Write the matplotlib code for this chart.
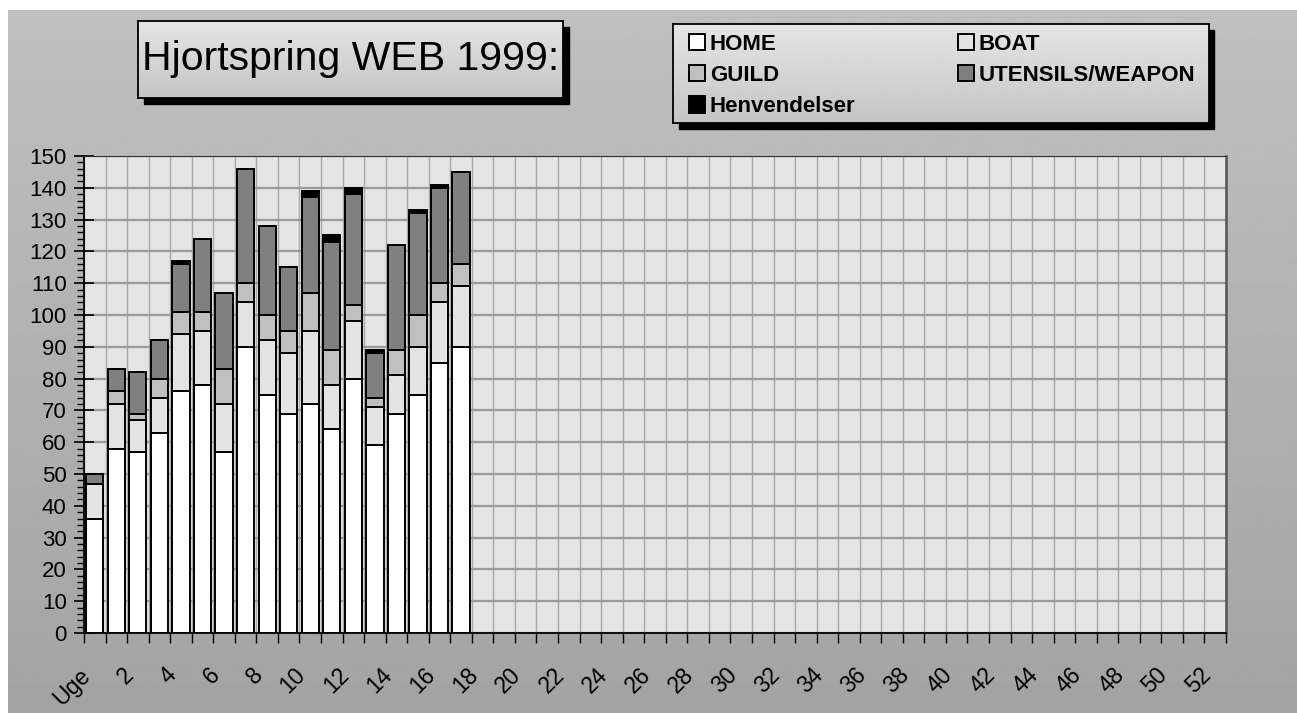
import numpy as np
import matplotlib.pyplot as plt
from matplotlib.patches import Rectangle
from matplotlib.ticker import MultipleLocator

plt.rcParams['font.family'] = ['Liberation Sans', 'DejaVu Sans']

# weeks (category 0 is labelled "Uge")
weeks = ['Uge'] + [str(i) for i in range(1, 53)]

home = [36, 58, 57, 63, 76, 78, 57, 90, 75, 69, 72, 64, 80, 59, 69, 75, 85, 90]
boat = [11, 14, 10, 11, 18, 17, 15, 14, 17, 19, 23, 14, 18, 12, 12, 15, 19, 19]
guild = [0, 4, 2, 6, 7, 6, 11, 6, 8, 7, 12, 11, 5, 3, 8, 10, 6, 7]
utensils = [3, 7, 13, 12, 15, 23, 24, 36, 28, 20, 30, 34, 35, 14, 33, 32, 30, 29]
henv = [0, 0, 0, 0, 1, 0, 0, 0, 0, 0, 2, 2, 2, 1, 0, 1, 1, 0]

names = ['HOME', 'BOAT', 'GUILD', 'UTENSILS/WEAPON', 'Henvendelser']
values = [home, boat, guild, utensils, henv]
colors = ['white', '#e3e3e3', '#c0c0c0', '#808080', 'black']

W, H = 1297, 713
fig = plt.figure(figsize=(W / 100, H / 100), dpi=100, facecolor='white')


def px(x0, y0, x1, y1):
    # pixel box (top-left origin) -> figure fraction rect
    return [x0 / W, 1 - y1 / H, (x1 - x0) / W, (y1 - y0) / H]


def gradient_axes(rect, top, bottom, z, edge=None):
    a = fig.add_axes(rect, zorder=z)
    g = np.linspace(top, bottom, 256).reshape(-1, 1)
    a.imshow(g, cmap='gray', vmin=0, vmax=1, aspect='auto', extent=[0, 1, 0, 1])
    a.set_xticks([])
    a.set_yticks([])
    for s in a.spines.values():
        if edge:
            s.set_color(edge)
            s.set_linewidth(1.3)
        else:
            s.set_visible(False)
    return a


# figure background
gradient_axes(px(8, 10, W, H), 0.75, 0.64, -5)

# main chart
ax = fig.add_axes(px(84, 156, 1226, 633), zorder=0)
ax.set_facecolor('#e4e4e4')
x = np.arange(len(home))
bottom = np.zeros(len(home))
handles = []
for name, vals, c in zip(names, values, colors):
    b = ax.bar(x, vals, 0.8, bottom=bottom, color=c, edgecolor='black',
               linewidth=1.4, label=name, zorder=3)
    handles.append(b)
    bottom = bottom + np.array(vals)

ax.set_xlim(-0.5, len(weeks) - 0.5)
ax.set_ylim(0, 150)

ax.yaxis.set_major_locator(MultipleLocator(10))
ax.yaxis.set_minor_locator(MultipleLocator(2))
ax.tick_params(axis='y', which='major', direction='inout', length=15, width=1.2,
               labelsize=16, pad=5)
ax.tick_params(axis='y', which='minor', direction='out', length=5, width=1.0)

ax.set_xticks(np.arange(0, len(weeks), 2))
ax.set_xticklabels(weeks[::2], rotation=45, ha='right', va='top')
ax.set_xticks(np.arange(-0.5, len(weeks), 1), minor=True)
ax.tick_params(axis='x', which='major', length=0, labelsize=16.5, pad=22)
ax.tick_params(axis='x', which='minor', direction='out', length=7, width=1.0)

ax.grid(True, axis='y', which='major', color='#9a9a9a', linewidth=1.6, zorder=1)
ax.grid(True, axis='x', which='minor', color='#a8a8a8', linewidth=1.0, zorder=1)
ax.set_axisbelow(True)
for s in ['left', 'bottom']:
    ax.spines[s].set_linewidth(1.3)
ax.spines['top'].set_color('#333333')
ax.spines['right'].set_color('#555555')
ax.spines['right'].set_linewidth(1.8)

# title box with drop shadow
fig.patches.append(Rectangle(px(144, 27, 569, 104)[:2], *px(144, 27, 569, 104)[2:],
                             transform=fig.transFigure, color='black', zorder=1))
tax = gradient_axes(px(138, 21, 563, 98), 0.90, 0.77, 2, edge='black')
tax.text(0.5, 0.5, 'Hjortspring WEB 1999:', transform=tax.transAxes, fontsize=29.5,
         ha='center', va='center')

# legend box with drop shadow
fig.patches.append(Rectangle(px(679, 30, 1214, 129)[:2], *px(679, 30, 1214, 129)[2:],
                             transform=fig.transFigure, color='black', zorder=1))
lax = gradient_axes(px(673, 24, 1209, 123), 0.90, 0.77, 2, edge='black')
order = [0, 2, 4, 1, 3]
leg = lax.legend([handles[i] for i in order], [names[i] for i in order], ncol=2,
                 loc='upper left', bbox_to_anchor=(-0.004, 1.08), frameon=False,
                 prop={'weight': 'bold', 'size': 16}, handlelength=0.75,
                 handleheight=0.75, handletextpad=0.2, labelspacing=0.46,
                 columnspacing=4.6, borderpad=0.3)

fig.savefig('out.png', dpi=100, facecolor='white')
